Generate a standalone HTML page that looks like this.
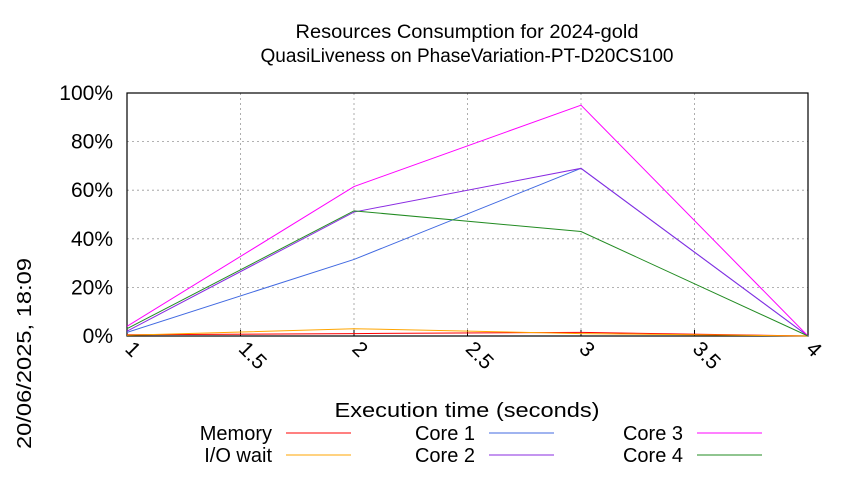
<!DOCTYPE html>
<html><head><meta charset="utf-8"><style>
body{margin:0;background:#fff}
svg{font-family:"Liberation Sans",sans-serif}
</style></head><body>
<svg id="chart" width="850" height="475" viewBox="0 0 850 475">
<text x="467" y="38" font-size="19" text-anchor="middle" textLength="343" lengthAdjust="spacingAndGlyphs">Resources Consumption for 2024-gold</text>
<text x="467" y="62" font-size="19" text-anchor="middle" textLength="413" lengthAdjust="spacingAndGlyphs">QuasiLiveness on PhaseVariation-PT-D20CS100</text>
<text transform="translate(31,449) rotate(-90)" font-size="20" textLength="191" lengthAdjust="spacingAndGlyphs">20/06/2025, 18:09</text>
<text x="467" y="417" font-size="20" text-anchor="middle" textLength="265" lengthAdjust="spacingAndGlyphs">Execution time (seconds)</text>
<g id="grid"></g><g id="axes"></g><g id="series"></g><g id="legend"></g>
</svg>
<script>
const xTicks=[1,1.5,2,2.5,3,3.5,4];
const yTicks=[0,20,40,60,80,100];
const times=[1,2,3,4];
const memory=[0.5,1,1.5,0];
const ioWait=[0.3,3,1,0];
const core1=[1.5,31.5,69,0];
const core2=[2,51,69,0];
const core3=[4,61.5,95,0];
const core4=[3,51.5,43,0];
const seriesNames=["Memory","I/O wait","Core 1","Core 2","Core 3","Core 4"];
const seriesData=[memory,ioWait,core1,core2,core3,core4];
const colors=["#ff0000","#ffa500","#4169e1","#8a2be2","#ff00ff","#228b22"];
const L=127,R=808,T=93,B=336;
const xs=t=>L+(t-1)/3*(R-L);
const ys=v=>B-v/100*(B-T);
const NS="http://www.w3.org/2000/svg";
function mk(tag,parent,attrs){const e=document.createElementNS(NS,tag);for(const k in attrs)e.setAttribute(k,attrs[k]);parent.appendChild(e);return e;}
const grid=document.getElementById('grid'),axes=document.getElementById('axes'),ser=document.getElementById('series'),leg=document.getElementById('legend');
xTicks.forEach(t=>{
 const l=mk('line',grid,{x1:xs(t),x2:xs(t),y1:T,y2:B,stroke:'#999','stroke-dasharray':'2,3','stroke-width':0.8});
 
 
 const tk=mk('line',axes,{x1:xs(t),x2:xs(t),y1:B,y2:B-6,stroke:'#000'});
 
 
 const tx=mk('text',axes,{transform:`translate(${xs(t)-3},${B+14}) rotate(45)`,'font-size':21});
 tx.textContent=t;
 
 
});
yTicks.forEach(v=>{
 const l=mk('line',grid,{x1:L,x2:R,y1:ys(v),y2:ys(v),stroke:'#999','stroke-dasharray':'2,3','stroke-width':0.8});
 
 
 const tx=mk('text',axes,{x:113,y:ys(v)+7,'font-size':21,'text-anchor':'end'});
 tx.textContent=v+'%';
 
 
});
const frame=mk('rect',axes,{x:L,y:T,width:R-L,height:B-T,fill:'none',stroke:'#000','stroke-width':1.2});


seriesData.forEach((d,i)=>{
 const p=mk('polyline',ser,{points:d.map((v,j)=>xs(times[j])+','+ys(v)).join(' '),fill:'none',stroke:colors[i],'stroke-width':1});
 
 
 const col=Math.floor(i/2),row=i%2;
 const lx=[272,475,683][col],ly=[433,455][row];
 const t=mk('text',leg,{x:lx,y:ly+7,'font-size':20,'text-anchor':'end'});
 t.textContent=seriesNames[i];
 
 
 const ln=mk('line',leg,{x1:lx+14,x2:lx+79,y1:ly,y2:ly,stroke:colors[i]});
 
 
});
</script>
</body></html>
